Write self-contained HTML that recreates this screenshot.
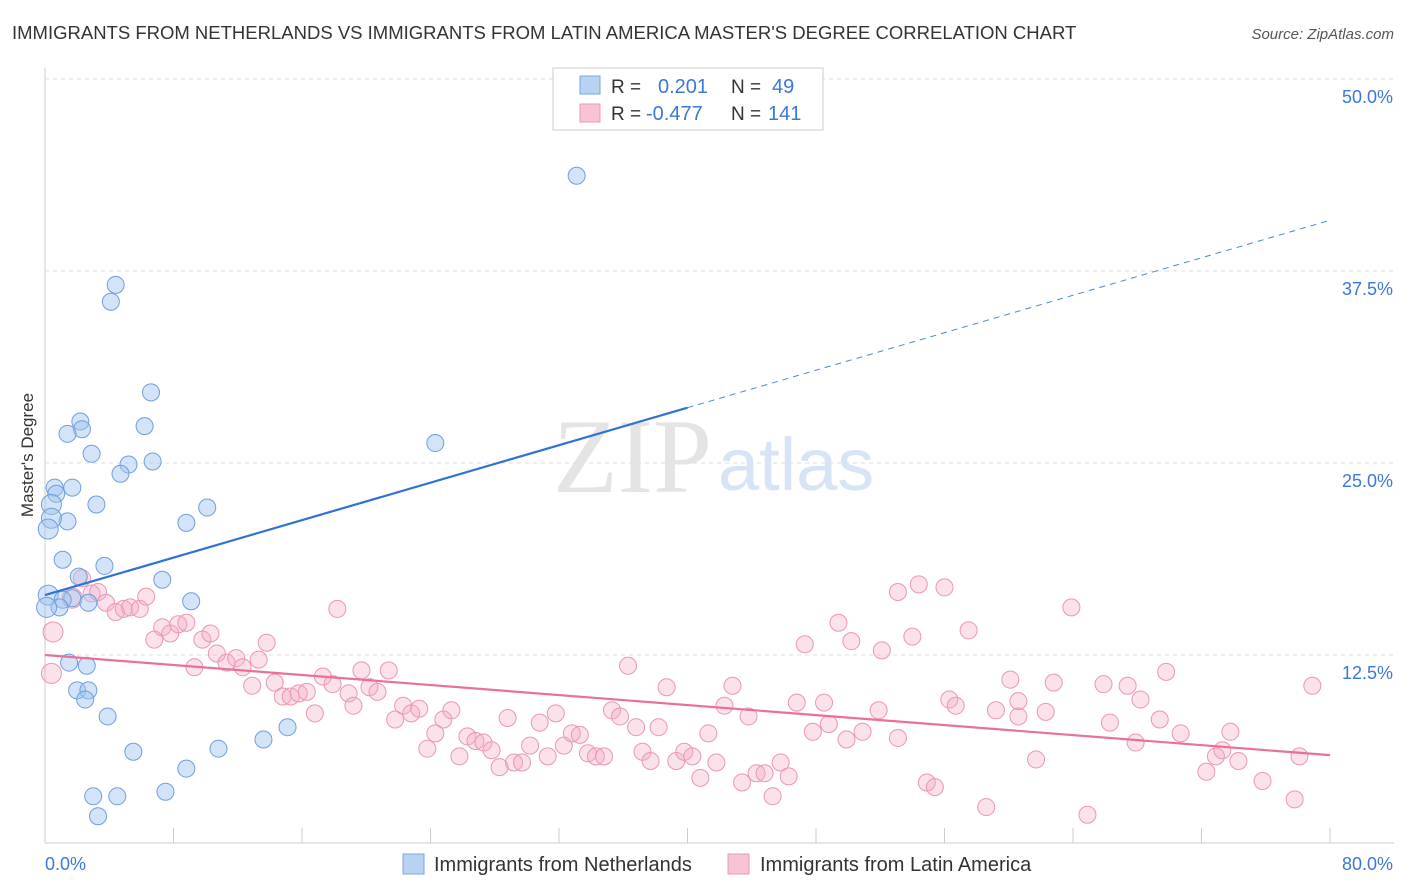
<!DOCTYPE html>
<html><head><meta charset="utf-8"><style>
body{margin:0;background:#fff;font-family:"Liberation Sans",sans-serif;}
#wrap{position:relative;width:1406px;height:892px;overflow:hidden;}
</style></head><body>
<div id="wrap">
<svg id="svg" width="1406" height="892" xmlns="http://www.w3.org/2000/svg" font-family="Liberation Sans, sans-serif">
<text x="12" y="39" font-size="18.5" fill="#333">IMMIGRANTS FROM NETHERLANDS VS IMMIGRANTS FROM LATIN AMERICA MASTER'S DEGREE CORRELATION CHART</text>
<text x="1394" y="39" font-size="15" fill="#555" font-style="italic" text-anchor="end">Source: ZipAtlas.com</text>
<text x="33" y="455" font-size="17" fill="#333" text-anchor="middle" transform="rotate(-90 33 455)">Master's Degree</text>
<g id="grid"></g>
<text x="553" y="492" font-size="106" fill="#e4e4e4" font-family="Liberation Serif, serif">ZIP</text>
<text x="718" y="490" font-size="74" fill="#d6e4f5">atlas</text>
<g id="marks"></g>
<g id="legend">
<rect x="553" y="68" width="270" height="62" fill="#fff" stroke="#ccc"/>
<rect x="580" y="76" width="20" height="18" fill="#b7d2f3" stroke="#7aa7dd"/>
<rect x="580" y="104" width="20" height="18" fill="#f8c3d3" stroke="#e99ab4"/>
<text x="611" y="93" font-size="19" fill="#333">R = </text><text x="658" y="93" font-size="20" fill="#3b78d8">0.201</text>
<text x="731" y="93" font-size="19" fill="#333">N = </text><text x="772" y="93" font-size="20" fill="#3b78d8">49</text>
<text x="611" y="120" font-size="19" fill="#333">R = </text><text x="646" y="120" font-size="20" fill="#3b78d8">-0.477</text>
<text x="731" y="120" font-size="19" fill="#333">N = </text><text x="768" y="120" font-size="20" fill="#3b78d8">141</text>
</g>
<g>
<rect x="403" y="854" width="21" height="20" fill="#b7d2f3" stroke="#7aa7dd"/>
<text x="434" y="871" font-size="20" fill="#333">Immigrants from Netherlands</text>
<rect x="728" y="854" width="21" height="20" fill="#f8c3d3" stroke="#e99ab4"/>
<text x="760" y="871" font-size="20" fill="#333">Immigrants from Latin America</text>
</g>
</svg>
</div>
<script>
const blueX=[33.1,4.4,4.1,6.6,6.2,2.2,2.3,1.4,24.3,2.9,5.2,6.7,4.7,0.6,1.7,0.7,3.2,10.1,0.4,8.8,1.4,0.4,0.2,1.1,3.7,7.3,2.1,0.2,1.7,1.1,2.7,9.1,0.9,0.1,1.5,2.6,2.0,2.7,2.5,3.9,5.5,10.8,13.6,15.1,8.8,7.5,3.0,4.5,3.3];
const blueY=[43.7,36.6,35.5,29.6,27.4,27.7,27.2,26.9,26.3,25.6,24.9,25.1,24.3,23.4,23.4,23.0,22.3,22.1,22.3,21.1,21.2,21.4,20.7,18.7,18.3,17.4,17.6,16.4,16.2,16.1,15.9,16.0,15.6,15.6,12.0,11.8,10.2,10.2,9.6,8.5,6.2,6.4,7.0,7.8,5.1,3.6,3.3,3.3,2.0];
const pinkX=[0.5,0.4,2.3,1.7,2.9,3.3,3.8,4.4,4.9,5.3,5.9,6.3,6.8,7.3,7.8,8.3,8.8,9.3,9.8,10.3,10.7,11.3,11.9,12.3,12.9,13.3,13.8,14.3,14.8,15.3,15.8,16.3,16.8,17.3,17.9,18.2,18.9,19.2,19.7,20.2,20.7,21.4,21.8,22.3,22.8,23.3,23.8,24.3,24.8,25.3,25.8,26.3,26.8,27.3,27.8,28.3,28.8,29.2,29.7,30.2,30.8,31.3,31.8,32.3,32.8,33.3,33.8,34.3,34.8,35.3,35.8,36.3,36.8,37.2,37.7,38.2,38.7,39.3,39.8,40.3,40.8,41.3,41.8,42.3,42.8,43.4,43.8,44.3,44.8,45.3,45.8,46.3,46.8,47.3,47.8,48.5,48.8,49.4,49.9,50.2,50.9,51.9,52.1,53.1,53.1,54.0,54.4,54.9,55.4,56.0,56.3,56.7,57.5,58.6,59.2,60.1,60.6,60.6,61.7,62.3,62.8,63.9,64.9,65.9,66.3,67.4,67.9,68.2,69.4,69.8,70.7,72.3,72.9,73.3,73.8,74.3,75.8,77.8,78.1,78.9];
const pinkY=[14.0,11.3,17.5,16.2,16.5,16.6,15.9,15.3,15.5,15.6,15.5,16.3,13.5,14.3,13.9,14.5,14.6,11.7,13.5,13.9,12.6,12.0,12.3,11.7,10.5,12.2,13.3,10.7,9.8,9.8,10.0,10.1,8.7,11.1,10.6,15.5,10.0,9.2,11.5,10.4,10.1,11.5,8.3,9.2,8.7,9.0,6.4,7.4,8.3,8.9,5.9,7.2,6.9,6.8,6.3,5.2,8.4,5.5,5.5,6.6,8.1,5.9,8.7,6.6,7.4,7.3,6.1,5.9,5.9,8.9,8.5,11.8,7.8,6.2,5.6,7.8,10.4,5.6,6.2,5.9,4.5,7.4,5.5,9.2,10.5,4.2,8.5,4.8,4.8,3.3,5.5,4.6,9.4,13.2,7.5,9.4,8.0,14.6,7.0,13.4,7.5,8.9,12.8,7.1,16.6,13.7,17.1,4.2,3.9,16.9,9.6,9.2,14.1,2.6,8.9,10.9,8.5,9.5,5.7,8.8,10.7,15.6,2.1,10.6,8.1,10.5,6.8,9.6,8.3,11.4,7.4,4.9,5.9,6.3,7.5,5.6,4.3,3.1,5.9,10.5];
const blueTrend=[16.4,0.305];
const pinkTrend=[12.5,-0.0815];
const yTicks=[12.5,25.0,37.5,50.0];
const xTicks=[0,8,16,24,32,40,48,56,64,72,80];
const NS='http://www.w3.org/2000/svg';
const X=v=>45+v/80*1285, Y=v=>847-v*15.36;
function mk(tag,attrs,parent){const e=document.createElementNS(NS,tag);for(const k in attrs)e.setAttribute(k,attrs[k]);parent.appendChild(e);return e;}
const grid=document.getElementById('grid'),marks=document.getElementById('marks');
let ax=mk('line',{x1:45,y1:68,x2:45,y2:843,stroke:'#ccc'},grid);


let bx=mk('line',{x1:45,y1:843,x2:1394,y2:843,stroke:'#ccc'},grid);


yTicks.forEach(t=>{
 let g=mk('line',{x1:45,y1:Y(t),x2:1394,y2:Y(t),stroke:'#ddd','stroke-dasharray':'4,4'},grid);
 
 
 let l=mk('text',{x:1393,y:Y(t)+24,'font-size':18,fill:'#3b78d8','text-anchor':'end'},grid);l.textContent=t.toFixed(1)+'%';
 
 
});
xTicks.forEach(t=>{
 let g=mk('line',{x1:X(t),y1:828,x2:X(t),y2:843,stroke:'#ccc'},grid);
 
 
});
let x0=mk('text',{x:45,y:870,'font-size':18,fill:'#3b78d8'},grid);x0.textContent='0.0%';


let x1=mk('text',{x:1393,y:870,'font-size':18,fill:'#3b78d8','text-anchor':'end'},grid);x1.textContent='80.0%';


pinkX.forEach((x,i)=>{
 let c=mk('circle',{cx:X(x),cy:Y(pinkY[i]),r:x<2?10:8.5,fill:'rgba(244,170,195,0.35)',stroke:'#ea97b3','stroke-width':1},marks);
 
 
});
blueX.forEach((x,i)=>{
 let c=mk('circle',{cx:X(x),cy:Y(blueY[i]),r:x<0.5?10:8.5,fill:'rgba(160,195,240,0.45)',stroke:'#6d9fdc','stroke-width':1},marks);
 
 
});
let bt=mk('line',{x1:X(0),y1:Y(blueTrend[0]),x2:X(40),y2:Y(blueTrend[0]+40*blueTrend[1]),stroke:'#2f72d6','stroke-width':2.2},marks);


let bd=mk('line',{x1:X(40),y1:Y(blueTrend[0]+40*blueTrend[1]),x2:X(80),y2:Y(blueTrend[0]+80*blueTrend[1]),stroke:'#4a86dc','stroke-width':1,'stroke-dasharray':'6,5'},marks);


let pt=mk('line',{x1:X(0),y1:Y(pinkTrend[0]),x2:X(80),y2:Y(pinkTrend[0]+80*pinkTrend[1]),stroke:'#e8709a','stroke-width':2.2},marks);


</script>
</body></html>
